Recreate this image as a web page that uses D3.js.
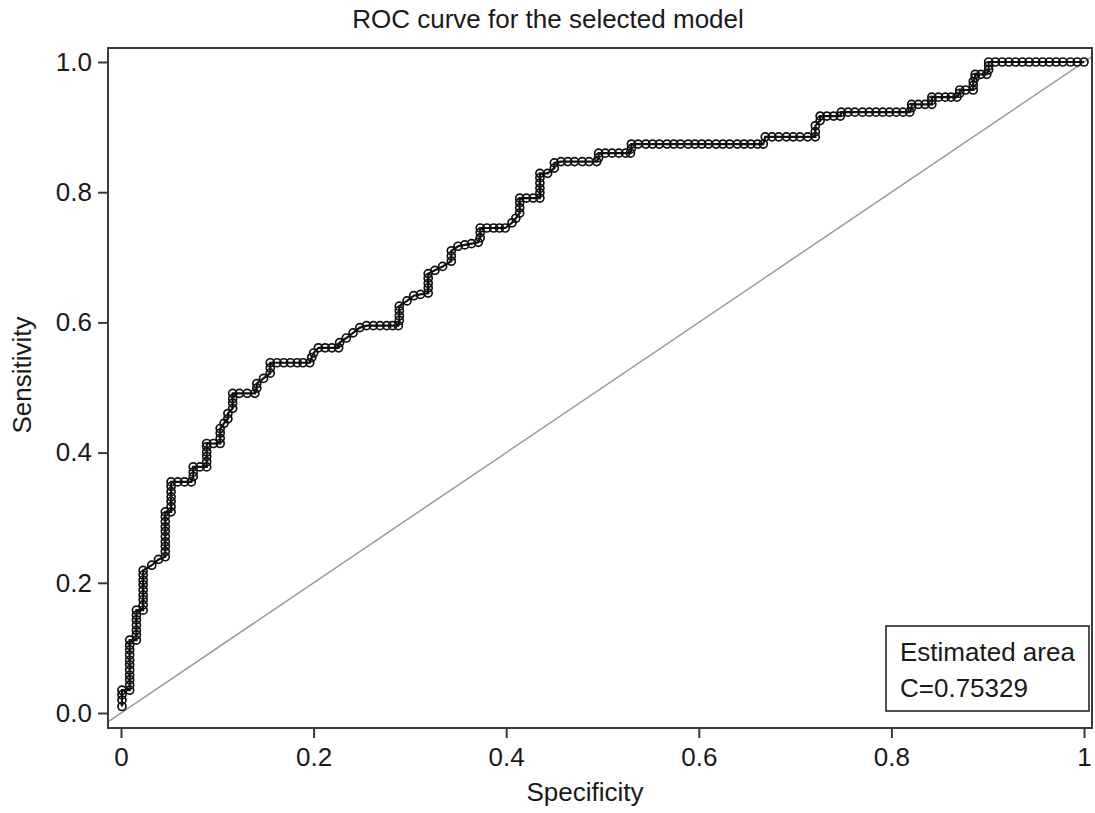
<!DOCTYPE html>
<html>
<head>
<meta charset="utf-8">
<script src="https://cdn.jsdelivr.net/npm/d3@7"></script>
<style>
  html, body { margin: 0; padding: 0; background: #fff; }
  svg { display: block; }
  text { font-family: "Liberation Sans", Arial, Helvetica, sans-serif; fill: #1a1a1a; }
</style>
</head>
<body>
<svg id="chart" width="1095" height="813"></svg>
<script>
// ---- Data ----
const specificity = [
  0.001,0.001,0.001,0.001,0.009,0.009,0.009,0.009,0.009,0.009,0.009,0.009,0.009,0.009,0.009,
  0.016,0.016,0.016,0.016,0.016,0.016,0.016,0.023,0.023,0.023,0.023,0.023,0.023,0.023,0.023,0.023,
  0.032,0.039,0.046,0.046,0.046,0.046,0.046,0.046,0.046,0.046,0.046,0.046,0.052,0.052,0.052,0.052,0.052,0.052,0.052,
  0.059,0.066,0.073,0.075,0.075,0.075,0.082,0.089,0.089,0.089,0.089,0.089,0.089,0.096,0.103,0.103,0.103,0.103,0.107,0.111,0.111,0.116,0.116,0.116,0.116,
  0.123,0.131,0.139,0.141,0.141,0.148,0.155,0.155,0.155,0.162,0.169,0.176,0.183,0.189,0.196,0.198,0.200,0.205,0.212,0.219,0.226,0.227,0.234,0.241,0.248,0.255,0.262,0.269,0.276,0.282,0.288,
  0.289,0.289,0.289,0.289,0.297,0.304,0.311,0.319,0.319,0.319,0.319,0.319,0.326,0.334,0.343,0.343,0.343,0.350,0.357,0.364,0.371,0.373,0.373,0.373,0.380,0.387,0.393,0.399,
  0.406,0.410,0.414,0.414,0.414,0.414,0.421,0.428,0.435,0.435,0.435,0.435,0.435,0.435,0.443,0.450,0.450,0.457,0.464,0.471,0.479,0.486,0.494,0.496,0.496,0.503,0.510,0.517,0.524,0.529,0.530,0.530,
  0.537,0.545,0.552,0.559,0.567,0.574,0.581,0.589,0.596,0.603,0.610,0.618,0.625,0.632,0.640,0.647,0.654,0.661,0.667,
  0.669,0.676,0.683,0.691,0.698,0.705,0.713,0.721,0.721,0.721,0.726,0.726,0.733,0.740,0.747,0.748,
  0.755,0.762,0.770,0.777,0.784,0.791,0.798,0.805,0.812,0.819,0.821,0.821,0.828,0.835,0.842,0.842,0.842,0.849,0.856,0.862,0.868,
  0.871,0.871,0.877,0.885,0.885,0.885,0.887,0.887,0.893,0.899,0.901,0.901,0.901,
  0.908,0.915,0.922,0.929,0.936,0.943,0.950,0.957,0.964,0.971,0.978,0.986,0.993,1.000
];
const sensitivity = [
  0.010,0.020,0.028,0.035,0.035,0.043,0.051,0.058,0.066,0.074,0.081,0.089,0.097,0.104,0.112,
  0.112,0.120,0.127,0.135,0.143,0.150,0.158,0.158,0.166,0.174,0.181,0.189,0.197,0.204,0.212,0.219,
  0.227,0.236,0.240,0.248,0.256,0.263,0.271,0.279,0.286,0.294,0.302,0.309,0.309,0.317,0.325,0.332,0.340,0.348,0.355,
  0.355,0.355,0.355,0.363,0.370,0.378,0.378,0.378,0.386,0.394,0.401,0.409,0.414,0.414,0.414,0.422,0.430,0.437,0.445,0.452,0.460,0.468,0.476,0.483,0.491,
  0.491,0.491,0.491,0.499,0.506,0.514,0.522,0.530,0.538,0.538,0.538,0.538,0.538,0.538,0.538,0.546,0.553,0.561,0.561,0.561,0.561,0.569,0.576,0.584,0.592,0.595,0.595,0.595,0.595,0.595,0.595,
  0.603,0.610,0.618,0.625,0.633,0.641,0.643,0.645,0.653,0.660,0.668,0.675,0.680,0.686,0.694,0.702,0.710,0.717,0.719,0.721,0.723,0.730,0.738,0.745,0.745,0.745,0.745,0.745,
  0.753,0.760,0.768,0.776,0.784,0.791,0.791,0.791,0.791,0.799,0.806,0.814,0.822,0.829,0.829,0.837,0.845,0.847,0.847,0.847,0.847,0.847,0.847,0.853,0.860,0.860,0.860,0.860,0.860,0.860,0.867,0.874,
  0.874,0.874,0.874,0.874,0.874,0.874,0.874,0.874,0.874,0.874,0.874,0.874,0.874,0.874,0.874,0.874,0.874,0.874,0.874,
  0.885,0.885,0.885,0.885,0.885,0.885,0.885,0.885,0.893,0.902,0.910,0.917,0.917,0.917,0.917,0.923,
  0.923,0.923,0.923,0.923,0.923,0.923,0.923,0.923,0.923,0.923,0.930,0.935,0.935,0.935,0.935,0.941,0.946,0.946,0.946,0.946,0.946,
  0.952,0.957,0.957,0.957,0.964,0.970,0.976,0.981,0.981,0.981,0.988,0.994,1.000,
  1.000,1.000,1.000,1.000,1.000,1.000,1.000,1.000,1.000,1.000,1.000,1.000,1.000,1.000
];
const xTicks = [0, 0.2, 0.4, 0.6, 0.8, 1];
const xTickLabels = ["0", "0.2", "0.4", "0.6", "0.8", "1"];
const yTicks = [0, 0.2, 0.4, 0.6, 0.8, 1];
const yTickLabels = ["0.0", "0.2", "0.4", "0.6", "0.8", "1.0"];
const titleText = "ROC curve for the selected model";
const xTitle = "Specificity";
const yTitle = "Sensitivity";
const legendLines = ["Estimated area", "C=0.75329"];

// ---- Layout ----
const FS = 26;
const svg = d3.select("#chart");
const frame = { left: 108, right: 1092, top: 48, bottom: 728 };
const x = d3.scaleLinear().domain([0, 1]).range([121, 1084]);
const y = d3.scaleLinear().domain([0, 1]).range([713, 62]);

const n = Math.min(specificity.length, sensitivity.length);
const pts = d3.range(n).map(i => [specificity[i], sensitivity[i]]);

svg.append("defs").append("clipPath").attr("id", "plotclip")
  .append("rect")
  .attr("x", frame.left).attr("y", frame.top)
  .attr("width", frame.right - frame.left).attr("height", frame.bottom - frame.top);

const plot = svg.append("g").attr("clip-path", "url(#plotclip)");

// diagonal reference line (extended across the frame)
const dLo = x.invert(frame.left), dHi = x.invert(frame.right);
plot.append("line")
  .attr("x1", x(dLo)).attr("y1", y(dLo))
  .attr("x2", x(dHi)).attr("y2", y(dHi))
  .attr("stroke", "#9a9a9a").attr("stroke-width", 1.5);

// ROC curve
plot.append("path")
  .datum(pts)
  .attr("fill", "none")
  .attr("stroke", "#111")
  .attr("stroke-width", 2.2)
  .attr("d", d3.line().x(d => x(d[0])).y(d => y(d[1])));

plot.append("g").selectAll("circle")
  .data(pts).join("circle")
  .attr("cx", d => x(d[0])).attr("cy", d => y(d[1]))
  .attr("r", 4)
  .attr("fill", "none")
  .attr("stroke", "#111")
  .attr("stroke-width", 1.7);

// frame
svg.append("rect")
  .attr("x", frame.left).attr("y", frame.top)
  .attr("width", frame.right - frame.left).attr("height", frame.bottom - frame.top)
  .attr("fill", "none").attr("stroke", "#3a3a3a").attr("stroke-width", 2);

// axes
const xAxis = d3.axisBottom(x).tickValues(xTicks)
  .tickFormat((d, i) => xTickLabels[i]).tickSize(10).tickPadding(10);
const gx = svg.append("g").attr("transform", `translate(0,${frame.bottom})`).call(xAxis);
gx.select(".domain").remove();
gx.selectAll(".tick line").attr("stroke", "#3a3a3a").attr("stroke-width", 2);
gx.selectAll(".tick text").attr("font-size", FS).attr("fill", "#1a1a1a")
  .style("font-family", '"Liberation Sans", Arial, sans-serif');

const yAxis = d3.axisLeft(y).tickValues(yTicks)
  .tickFormat((d, i) => yTickLabels[i]).tickSize(10).tickPadding(6);
const gy = svg.append("g").attr("transform", `translate(${frame.left},0)`).call(yAxis);
gy.select(".domain").remove();
gy.selectAll(".tick line").attr("stroke", "#3a3a3a").attr("stroke-width", 2);
gy.selectAll(".tick text").attr("font-size", FS).attr("fill", "#1a1a1a")
  .style("font-family", '"Liberation Sans", Arial, sans-serif');

// titles
svg.append("text").attr("x", 548).attr("y", 28)
  .attr("text-anchor", "middle").attr("font-size", FS).text(titleText);
svg.append("text").attr("x", 585).attr("y", 801)
  .attr("text-anchor", "middle").attr("font-size", FS).text(xTitle);
svg.append("text")
  .attr("transform", `translate(31,${375}) rotate(-90)`)
  .attr("text-anchor", "middle").attr("font-size", FS).text(yTitle);

// legend box
const lg = svg.append("g");
lg.append("rect").attr("x", 886).attr("y", 626).attr("width", 203).attr("height", 85)
  .attr("fill", "#fff").attr("stroke", "#1a1a1a").attr("stroke-width", 1.5);
lg.selectAll("text.leg").data(legendLines).join("text")
  .attr("class", "leg")
  .attr("x", 900).attr("y", (d, i) => 661 + i * 36)
  .attr("font-size", FS).text(d => d);
</script>
</body>
</html>
